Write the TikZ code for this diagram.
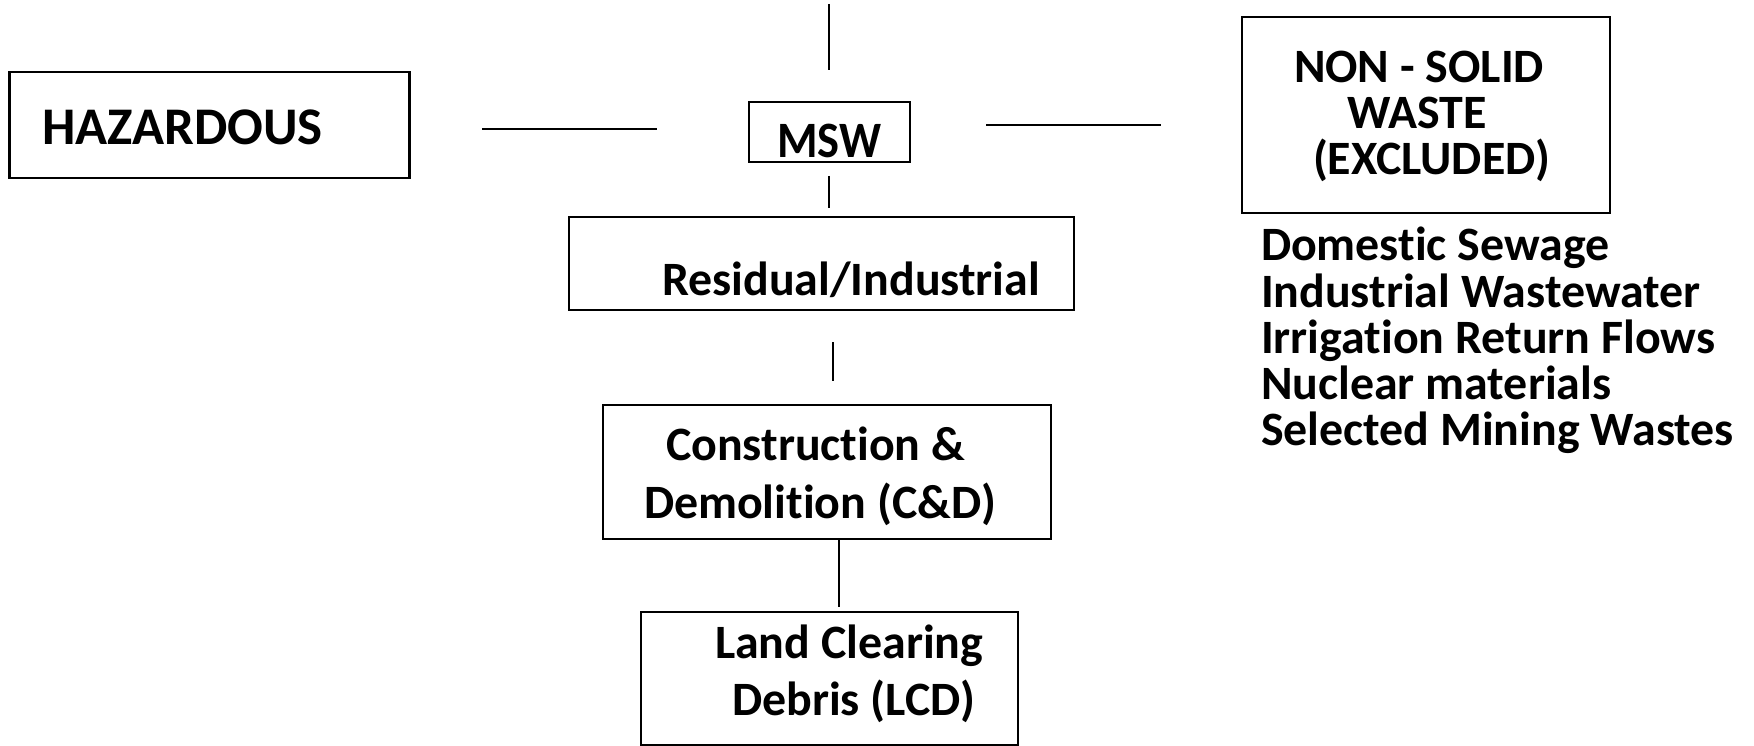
\documentclass[tikz,border=0pt]{standalone}
\usepackage{fontspec}
\usepackage{graphicx}
\setmainfont{Carlito}[Ligatures=NoCommon]
\begin{document}
\begin{tikzpicture}[x=1pt,y=-1pt,
  box/.style={draw, line width=2.5pt, inner sep=0pt, outer sep=0pt},
  conn/.style={line width=2.2pt},
  txt/.style={anchor=base west, inner sep=0pt, outer sep=0pt, font=\bfseries\fontsize{47.9pt}{56pt}\selectfont},
  bigtxt/.style={txt, font=\bfseries\fontsize{52.9pt}{60pt}\selectfont},
  midtxt/.style={txt, font=\bfseries\fontsize{51pt}{60pt}\selectfont}]
\useasboundingbox[fill=white] (0,0) rectangle (1754,746);
% boxes
\node[box, minimum width=400pt, minimum height=106pt] (haz) at (209.5,125) {};
\node[box, minimum width=161pt, minimum height=60pt] (msw) at (829.5,132) {};
\node[box, minimum width=505pt, minimum height=93pt] (res) at (821.5,263.5) {};
\node[box, minimum width=448pt, minimum height=134pt] (cd) at (827,472) {};
\node[box, minimum width=377pt, minimum height=133pt] (lcd) at (829.5,678.5) {};
\node[box, minimum width=368pt, minimum height=196pt] (non) at (1426,115) {};
% texts
\node[bigtxt] (thaz) at (42,145) {HAZARDOUS};
\node[midtxt] (tmsw) at (777,158) {\scalebox{0.91}[1]{MSW}};
\node[txt] (tres) at (662,295) {Residual/Industrial};
\node[txt] (tcd1) at (666,460) {Construction \&};
\node[txt] (tcd2) at (644,518) {Demolition (C\&D)};
\node[txt] (tlcd1) at (715,658) {Land Clearing};
\node[txt] (tlcd2) at (732,715) {Debris (LCD)};
\node[txt] (tnon1) at (1294,83) {NON - SOLID};
\node[txt] (tnon2) at (1347,129) {WASTE};
\node[txt] (tnon3) at (1313,175) {(EXCLUDED)};
\node[txt] (l1) at (1261,261) {Domestic Sewage};
\node[txt] (l2) at (1261,307) {Industrial Wastewater};
\node[txt] (l3) at (1261,353) {Irrigation Return Flows};
\node[txt] (l4) at (1261,399) {Nuclear materials};
\node[txt] (l5) at (1261,445) {Selected Mining Wastes};
% connector ends
\coordinate (t1) at (829,4);
\coordinate (t2) at (829,70);
\coordinate (h1) at (482,129);
\coordinate (h2) at (657,129);
\coordinate (r1) at (986,125);
\coordinate (r2) at (1161,125);
\coordinate (m1) at (829,176);
\coordinate (m2) at (829,208);
\coordinate (c1) at (833,342);
\coordinate (c2) at (833,381);
\coordinate (d1) at (839,540);
\coordinate (d2) at (839,607);
\draw[conn] (t1) -- (t2);
\draw[conn] (h1) -- (h2);
\draw[conn] (r1) -- (r2);
\draw[conn] (m1) -- (m2);
\draw[conn] (c1) -- (c2);
\draw[conn] (d1) -- (d2);
\end{tikzpicture}
\end{document}
